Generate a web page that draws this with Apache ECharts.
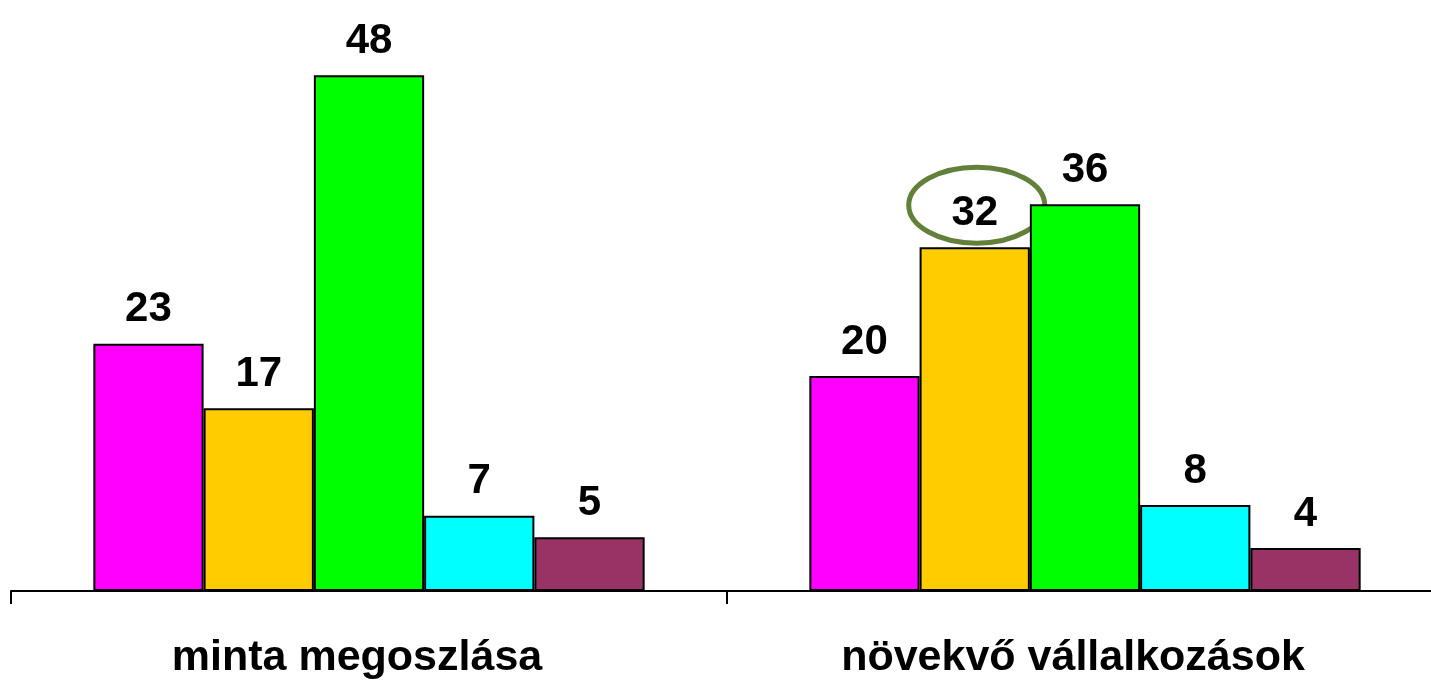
<!DOCTYPE html>
<html>
<head>
<meta charset="utf-8">
<script src="https://cdn.jsdelivr.net/npm/echarts@6/dist/echarts.min.js"></script>
<style>
  html, body { margin: 0; padding: 0; background: #fff; }
  #chart { width: 1431px; height: 680px; }
</style>
</head>
<body>
<div id="chart"></div>
<script>
  // kategóriák és sorozatok
  const categories = ['minta megoszlása', 'növekvő vállalkozások'];
  const seriesA = [23, 20];
  const seriesB = [17, 32];
  const seriesC = [48, 36];
  const seriesD = [7, 8];
  const seriesE = [5, 4];
  const colors = ['#ff00ff', '#ffcc00', '#00ff00', '#00ffff', '#993366'];

  const chart = echarts.init(document.getElementById('chart'));

  function bar(data, color) {
    return {
      type: 'bar',
      data: data,
      barGap: '0%',
      barCategoryGap: '23%',
      itemStyle: { color: color, borderColor: '#000', borderWidth: 2 },
      label: {
        show: true,
        position: 'top',
        distance: 13,
        color: '#000',
        fontFamily: 'Liberation Sans, Arial',
        fontWeight: 'bold',
        fontSize: 42
      }
    };
  }

  chart.setOption({
    animation: false,
    grid: { left: 11, top: 0, width: 1432, bottom: 89, outerBoundsMode: 'none', containLabel: false },
    xAxis: {
      type: 'category',
      data: categories,
      axisLine: { lineStyle: { color: '#000', width: 2 } },
      axisTick: { show: true, length: 13, lineStyle: { color: '#000', width: 2 } },
      axisLabel: {
        margin: 46,
        padding: [0, 24, 0, 0],
        color: '#000',
        fontFamily: 'Liberation Sans, Arial',
        fontWeight: 'bold',
        fontSize: 43
      }
    },
    yAxis: { type: 'value', min: 0, max: 55, show: false },
    series: [
      bar(seriesA, colors[0]),
      bar(seriesB, colors[1]),
      bar(seriesC, colors[2]),
      bar(seriesD, colors[3]),
      bar(seriesE, colors[4])
    ]
  });

  // ellipszis a kiemelt érték körül
  const barLayout = chart.getModel().getSeriesByIndex(1).getData().getItemLayout(1);
  const cx = barLayout.x + barLayout.width / 2;
  const barTop = barLayout.y + barLayout.height;
  chart.setOption({
    graphic: [{
      type: 'ellipse',
      shape: { cx: cx + 2, cy: barTop - 42, rx: 68, ry: 38 },
      style: { fill: 'none', stroke: '#62803a', lineWidth: 5 }
    }]
  });
</script>
</body>
</html>
